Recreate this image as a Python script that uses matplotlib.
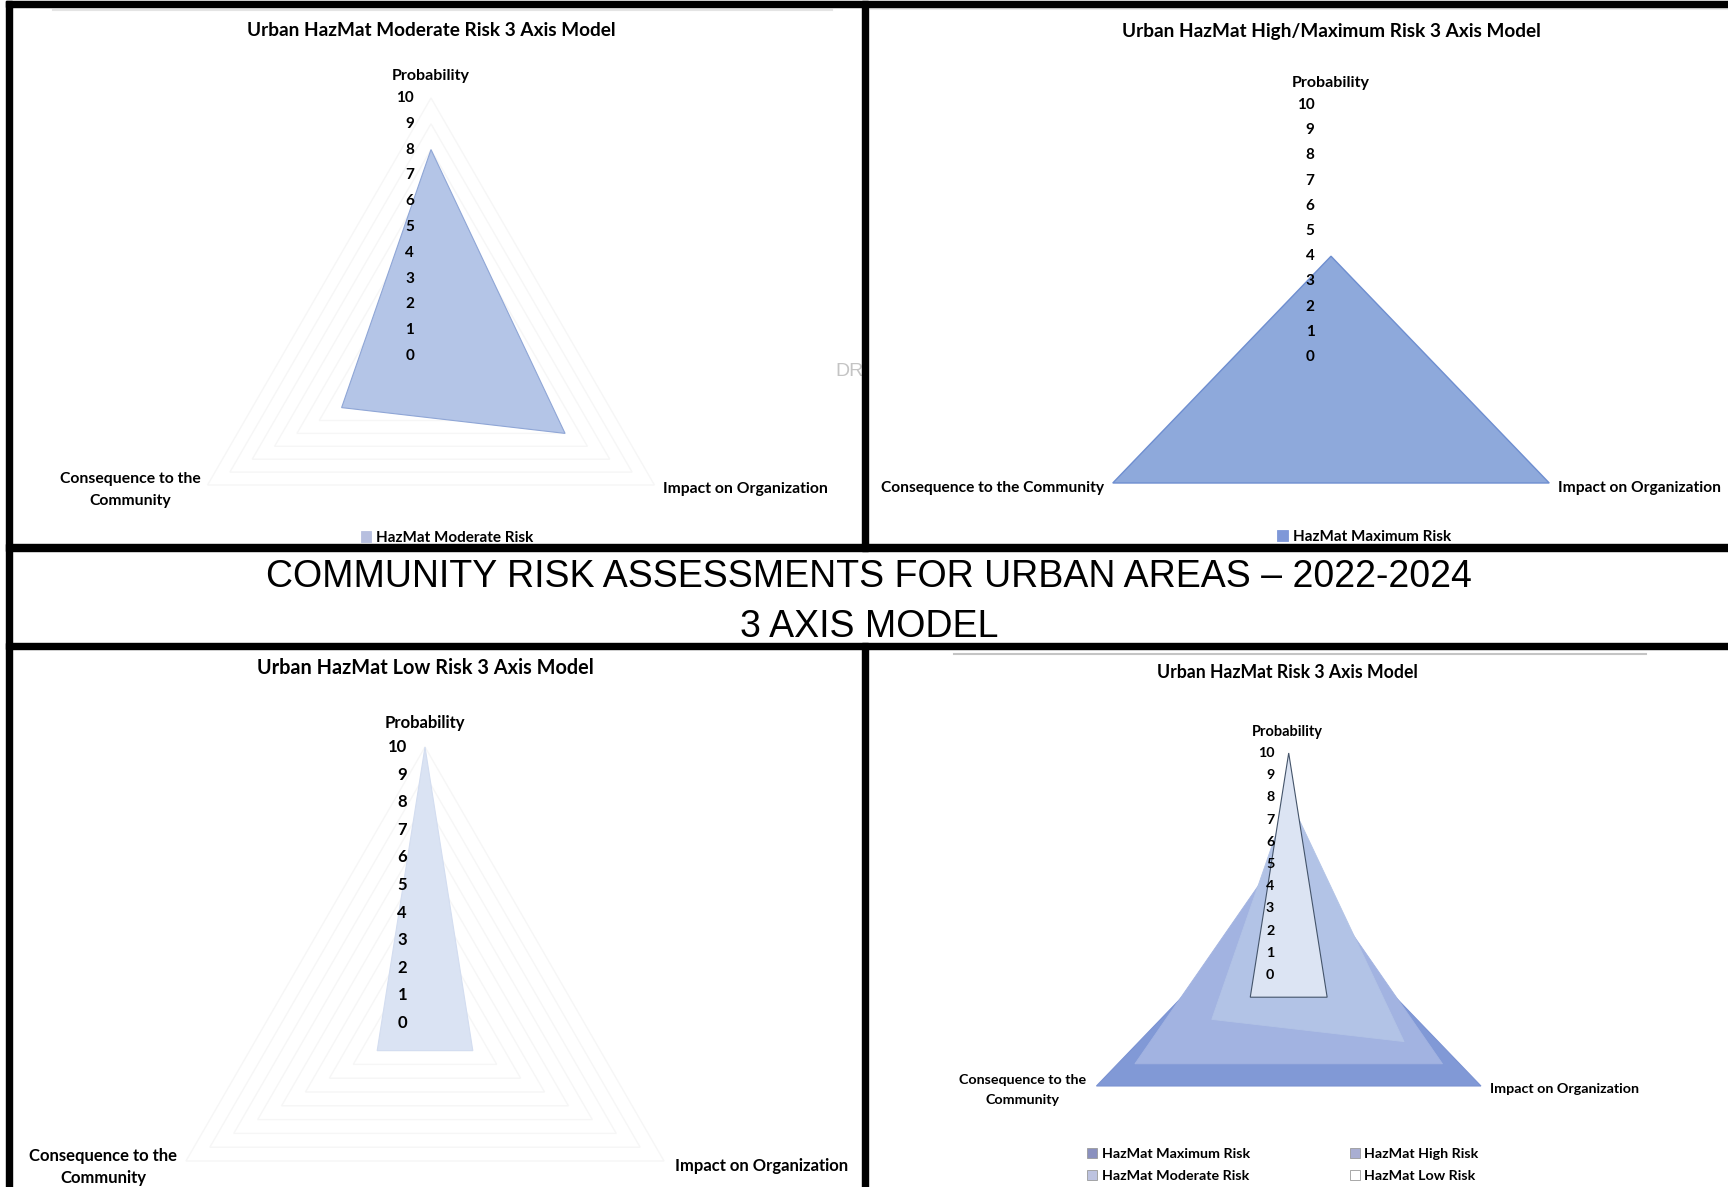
import numpy as np
import matplotlib.pyplot as plt
from matplotlib.patches import Rectangle, Patch

# ---- data -------------------------------------------------------------
axis_names = ['Probability', 'Impact on Organization', 'Consequence to the Community']
scale_ticks = list(range(0, 11))

maximum_risk = [4, 10, 10]
high_risk = [6, 8, 8]
moderate_risk = [8, 6, 4]
low_risk = [10, 2, 2]

series_names = ['HazMat Maximum Risk', 'HazMat High Risk', 'HazMat Moderate Risk', 'HazMat Low Risk']

page_title = 'COMMUNITY RISK ASSESSMENTS FOR URBAN AREAS \u2013 2022-2024'
page_subtitle = '3 AXIS MODEL'

# ---- figure / pixel helpers ------------------------------------------
W, H = 1728, 1187
fig = plt.figure(figsize=(W / 100, H / 100), dpi=100)
fig.patch.set_facecolor('white')
FONT = 'Lato'


def fx(x):
    return x / W


def fy(y):
    return 1 - y / H


def ftext(x, y, s, **kw):
    kw.setdefault('family', FONT)
    kw.setdefault('fontweight', 'bold')
    kw.setdefault('ha', 'center')
    kw.setdefault('va', 'center')
    return fig.text(fx(x), fy(y), s, **kw)


def black_bar(x0, y0, x1, y1):
    fig.add_artist(Rectangle((fx(x0), fy(y1)), (x1 - x0) / W, (y1 - y0) / H,
                             transform=fig.transFigure, color='black', zorder=20))


def grey_line(x0, x1, y, color, lw=1.5):
    fig.add_artist(plt.Line2D([fx(x0), fx(x1)], [fy(y), fy(y)], transform=fig.transFigure,
                              color=color, lw=lw, zorder=1))


angles = np.deg2rad([90, -30, 210])


def radar(box, center, unit, layers, tick_size, grid_color=None):
    x0, y0, x1, y1 = box
    cx, cy = center
    ax = fig.add_axes([fx(x0), fy(y1), (x1 - x0) / W, (y1 - y0) / H])
    ax.set_xlim((x0 - cx) / unit, (x1 - cx) / unit)
    ax.set_ylim((cy - y1) / unit, (cy - y0) / unit)
    ax.axis('off')
    if grid_color:
        for k in scale_ticks[1:]:
            ax.fill(k * np.cos(angles), k * np.sin(angles), fill=False,
                    edgecolor=grid_color, lw=1.0, zorder=1)
    for vals, face, edge, lw in layers:
        vals = np.asarray(vals, dtype=float)
        ax.fill(vals * np.cos(angles), vals * np.sin(angles), facecolor=face,
                edgecolor=edge, lw=lw, zorder=2)
    for k in scale_ticks:
        ax.text(-0.65, k, str(k), ha='right', va='center', family=FONT,
                fontweight='bold', fontsize=tick_size, zorder=5)
    return ax


def legend(ax, names, colors, anchor, ncol=1, size=10, edge=None, colspace=7.0):
    handles = [Patch(facecolor=c, edgecolor=edge or c, lw=0.6) for c in colors]
    ax.legend(handles, names, loc='center', bbox_to_anchor=(fx(anchor[0]), fy(anchor[1])),
              bbox_transform=fig.transFigure, ncol=ncol, frameon=False,
              handlelength=0.7, handleheight=0.7, handletextpad=0.3,
              columnspacing=colspace, labelspacing=0.68,
              prop={'family': FONT, 'weight': 'bold', 'size': size})


# ---- top left: moderate -----------------------------------------------
grey_line(53, 832, 10, '#E4E4E4')
ax1 = radar((12, 7, 862, 544), (431, 356), 25.8,
            [(moderate_risk, '#B4C5E7', '#8FA6D6', 0.8)], 11, grid_color='#F6F6F6')
ftext(431, 30, 'Urban HazMat Moderate Risk 3 Axis Model', fontsize=13.7)
ftext(431, 76, axis_names[0], fontsize=11.5)
ftext(130, 490, 'Consequence to the\nCommunity', fontsize=11.3, linespacing=1.7)
ftext(745, 489, axis_names[1], fontsize=11.3)
legend(ax1, [series_names[2]], ['#B7BFDF'], (447, 538), size=11)
dr = ftext(835, 372, 'DRA', family='Liberation Sans', fontweight='normal',
           fontsize=14, color='#C4C4C4', ha='left')

# ---- top right: maximum ------------------------------------------------
grey_line(871, 1728, 9, '#EBEBEB')
ax2 = radar((868, 7, 1728, 544), (1331, 357), 25.2,
            [(maximum_risk, '#8EA9DB', '#6E8ED0', 1.0)], 11)
ftext(1331, 32, 'Urban HazMat High/Maximum Risk 3 Axis Model', fontsize=13.7)
ftext(1331, 83, axis_names[0], fontsize=11.5)
ftext(1104, 488, axis_names[2], fontsize=11.2, ha='right')
ftext(1558, 488, axis_names[1], fontsize=11.2, ha='left')
legend(ax2, [series_names[0]], ['#7F98D8'], (1364, 537), size=11)

# ---- middle band ---------------------------------------------------------
ftext(869, 577, page_title, family='Liberation Sans', fontweight='normal', fontsize=27)
ftext(869, 627, page_subtitle, family='Liberation Sans', fontweight='normal', fontsize=27)

# ---- bottom left: low --------------------------------------------------
ax3 = radar((12, 649, 862, 1187), (425, 1023), 27.6,
            [(low_risk, '#DAE3F3', '#D3DDF0', 0.8)], 12, grid_color='#F6F6F6')
ftext(425, 668, 'Urban HazMat Low Risk 3 Axis Model', fontsize=14.3)
ftext(425, 723, axis_names[0], fontsize=12)
ftext(103, 1167, 'Consequence to the\nCommunity', fontsize=12, linespacing=1.5)
ftext(762, 1166, axis_names[1], fontsize=12)

# ---- bottom right: combined ------------------------------------------------
grey_line(954, 1646, 654, '#C4C4C4', lw=1.5)
ax4 = radar((868, 649, 1728, 1187), (1288.7, 975), 22.2,
            [(maximum_risk, '#8199D6', '#7A92D2', 0.8),
             (high_risk, '#A2B3E1', '#A2B3E1', 0.6),
             (moderate_risk, '#B2C3E6', '#B2C3E6', 0.6),
             (low_risk, '#DCE4F3', '#44546A', 0.8)], 10.3)
ftext(1287, 673, 'Urban HazMat Risk 3 Axis Model', fontsize=12.7)
ftext(1287, 732, axis_names[0], fontsize=10.5)
ftext(1023, 1090, 'Consequence to the\nCommunity', fontsize=10.3, linespacing=1.7)
ftext(1564, 1089, axis_names[1], fontsize=10.3)
# legend fills column by column, so list it as Max, Moderate | High, Low
order = [0, 2, 1, 3]
legend_colors = ['#8A90BE', '#A9AED2', '#BDC3E0', '#FFFFFF']
legend(ax4, [series_names[i] for i in order], [legend_colors[i] for i in order],
       (1283, 1165), ncol=2, size=10.3, edge='#9A9A9A', colspace=7.0)

# ---- black frame -------------------------------------------------------------
black_bar(6, 1, 1728, 7)
black_bar(6, 1, 12, 1187)
black_bar(862, 1, 868, 551)
black_bar(6, 544, 1728, 551)
black_bar(6, 643, 1728, 649)
black_bar(862, 643, 868, 1187)
dr.set_clip_path(Rectangle((0, 0), fx(868), 1, transform=fig.transFigure))

fig.savefig('out.png', dpi=100, facecolor='white')
